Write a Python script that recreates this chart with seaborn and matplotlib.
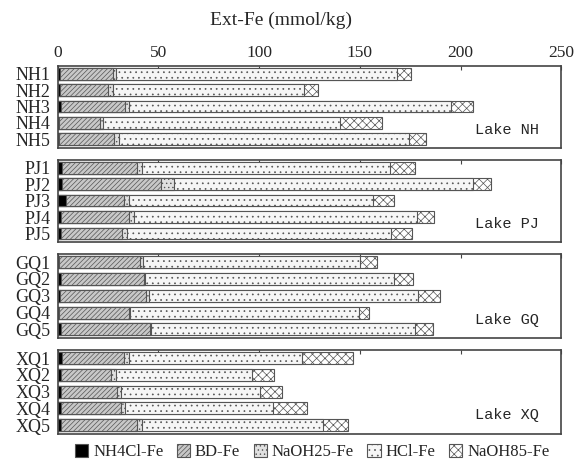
import numpy as np
import pandas as pd
import matplotlib
matplotlib.use("Agg")
import matplotlib.pyplot as plt
import seaborn as sns
from matplotlib.patches import Patch

sns.set_style("white")
plt.rcParams['font.family'] = ['Liberation Serif', 'DejaVu Serif']
plt.rcParams['hatch.linewidth'] = 0.5

lakes = ["NH", "PJ", "GQ", "XQ"]
samples = ["NH1", "NH2", "NH3", "NH4", "NH5",
           "PJ1", "PJ2", "PJ3", "PJ4", "PJ5",
           "GQ1", "GQ2", "GQ3", "GQ4", "GQ5",
           "XQ1", "XQ2", "XQ3", "XQ4", "XQ5"]
nh4cl = [1.0, 1.2, 1.7, 0.6, 0.8,
         1.9, 2.0, 4.0, 1.7, 1.5,
         0.8, 1.5, 1.0, 0.5, 1.5,
         2.0, 1.5, 1.5, 1.5, 1.5]
bd = [26.4, 23.7, 31.5, 20.6, 27.1,
      37.5, 49.3, 28.7, 33.8, 30.3,
      39.8, 41.1, 43.0, 34.7, 44.1,
      30.8, 24.7, 27.9, 29.7, 37.8]
naoh25 = [1.6, 2.5, 2.0, 1.3, 2.4,
          2.3, 6.6, 2.8, 2.3, 2.8,
          1.7, 0.7, 1.1, 0.5, 0.9,
          2.5, 2.5, 1.9, 2.1, 2.7]
hcl = [139.6, 95.0, 160.0, 117.6, 144.0,
       123.3, 148.1, 120.8, 140.4, 130.8,
       107.7, 123.9, 134.0, 114.1, 131.0,
       86.1, 67.8, 69.0, 73.4, 89.5]
naoh85 = [6.9, 6.6, 11.0, 21.1, 8.5,
          12.6, 9.2, 10.7, 8.8, 10.3,
          8.7, 9.4, 10.9, 4.9, 9.0,
          25.4, 11.0, 10.8, 16.9, 12.5]
fractions = ["NH4Cl-Fe", "BD-Fe", "NaOH25-Fe", "HCl-Fe", "NaOH85-Fe"]
xticks = [0, 50, 100, 150, 200, 250]

df = pd.DataFrame({"sample": samples, "lake": [s[:2] for s in samples],
                   "NH4Cl-Fe": nh4cl, "BD-Fe": bd, "NaOH25-Fe": naoh25,
                   "HCl-Fe": hcl, "NaOH85-Fe": naoh85})
cum = df[fractions].cumsum(axis=1)
for f in fractions:
    df["cum_" + f] = cum[f]

styles = {
    "NH4Cl-Fe": dict(facecolor="black", hatch=None),
    "BD-Fe": dict(facecolor="#c8c8c8", hatch="///////"),
    "NaOH25-Fe": dict(facecolor="#e0e0e0", hatch="...."),
    "HCl-Fe": dict(facecolor="#f6f6f6", hatch="..."),
    "NaOH85-Fe": dict(facecolor="white", hatch="xxxx"),
}
edge = "#555555"

fig = plt.figure(figsize=(5.78, 4.62), dpi=100)
left, right = 0.100, 0.971
tops = [0.857, 0.654, 0.450, 0.242]
bots = [0.680, 0.476, 0.268, 0.061]

for i, lake in enumerate(lakes):
    ax = fig.add_axes([left, bots[i], right - left, tops[i] - bots[i]])
    sub = df[df["lake"] == lake]
    for f in reversed(fractions):
        st = styles[f]
        sns.barplot(data=sub, x="cum_" + f, y="sample", orient="h", ax=ax,
                    color=st["facecolor"], saturation=1, width=0.72,
                    edgecolor=edge, linewidth=0.8, hatch=st["hatch"],
                    errorbar=None)
    ax.set_xlim(0, 250)
    ax.set_ylim(4.52, -0.47)
    ax.set_xlabel("")
    ax.set_ylabel("")
    ax.xaxis.set_ticks_position("top")
    ax.set_xticks(xticks)
    ax.tick_params(axis="x", direction="in", length=3, width=0.8, color="#444444",
                   labelsize=12.5, pad=4, top=True, bottom=False)
    if i == 0:
        ax.tick_params(axis="x", labeltop=True, labelbottom=False)
    else:
        ax.tick_params(axis="x", labeltop=False, labelbottom=False)
    ax.tick_params(axis="y", length=0, labelsize=13, pad=5)
    for sp in ax.spines.values():
        sp.set_visible(True)
        sp.set_color("#444444")
        sp.set_linewidth(1.2)
    ax.text(0.955, 0.22, "Lake " + lake, transform=ax.transAxes, ha="right",
            va="center", fontsize=11, family="Liberation Mono")

fig.text(0.487, 0.955, "Ext-Fe (mmol/kg)", ha="center", va="center", fontsize=14)

handles = [Patch(facecolor=styles[f]["facecolor"], edgecolor=edge,
                 hatch=styles[f]["hatch"], linewidth=0.8) for f in fractions]
fig.legend(handles, fractions, loc="center", bbox_to_anchor=(0.54, 0.022),
           ncol=5, frameon=False, fontsize=12, handlelength=0.8,
           handleheight=0.8, handletextpad=0.3, columnspacing=0.8)

fig.savefig("out.png", dpi=100)
